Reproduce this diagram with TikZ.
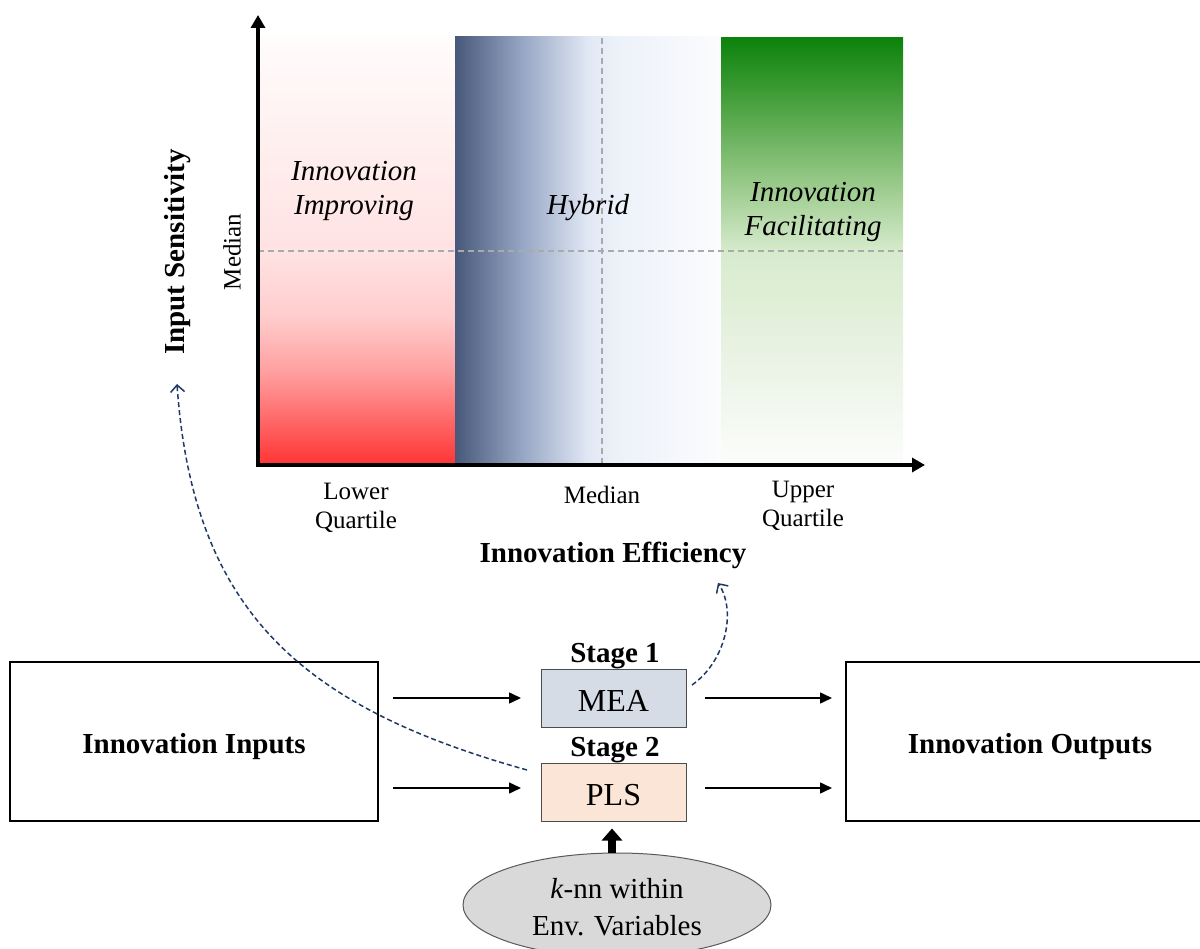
\documentclass[tikz,border=0pt]{standalone}
\usepackage{fontspec}
\setmainfont{Liberation Serif}
\usetikzlibrary{arrows.meta,shapes.geometric}

\definecolor{r0}{RGB}{255,52,52}
\definecolor{r1}{RGB}{255,160,160}
\definecolor{r2}{RGB}{255,205,205}
\definecolor{r3}{RGB}{255,226,226}
\definecolor{r4}{RGB}{255,252,252}
\definecolor{b0}{RGB}{72,88,122}
\definecolor{b1}{RGB}{150,165,195}
\definecolor{b2}{RGB}{225,232,245}
\definecolor{b3}{RGB}{236,241,249}
\definecolor{b4}{RGB}{252,252,254}
\definecolor{g0}{RGB}{252,253,252}
\definecolor{g1}{RGB}{232,242,226}
\definecolor{g2}{RGB}{215,235,205}
\definecolor{g3}{RGB}{150,200,135}
\definecolor{g4}{RGB}{70,160,60}
\definecolor{g5}{RGB}{12,130,12}
\definecolor{navy}{RGB}{31,56,100}
\definecolor{meafill}{RGB}{214,220,229}
\definecolor{plsfill}{RGB}{251,229,214}
\definecolor{envfill}{RGB}{217,217,217}
\definecolor{gridgray}{RGB}{170,170,170}

\pgfdeclareverticalshading{redshade}{100bp}{color(0bp)=(r0); color(25bp)=(r0); color(36bp)=(r1); color(42.5bp)=(r2); color(50bp)=(r3); color(75bp)=(r4); color(100bp)=(r4)}
\pgfdeclarehorizontalshading{blueshade}{100bp}{color(0bp)=(b0); color(25bp)=(b0); color(37.5bp)=(b1); color(50bp)=(b2); color(55bp)=(b3); color(75bp)=(b4); color(100bp)=(b4)}
\pgfdeclareverticalshading{greenshade}{100bp}{color(0bp)=(g0); color(25bp)=(g0); color(38.5bp)=(g1); color(50bp)=(g2); color(58.3bp)=(g3); color(67.75bp)=(g4); color(75bp)=(g5); color(100bp)=(g5)}

\newcommand\szA{\fontsize{29}{34}\selectfont}
\newcommand\szB{\fontsize{25}{29.5}\selectfont}
\newcommand\szC{\fontsize{32}{38}\selectfont}
\newcommand\szE{\fontsize{29}{37}\selectfont}

\tikzset{
  bigbox/.style={draw=black, line width=1.3pt, minimum width=368pt, minimum height=159pt},
  bigtext/.style={font=\szA\bfseries},
  stagebox/.style={draw=black!70, line width=1pt, minimum width=145pt, minimum height=58pt},
  stagetext/.style={font=\szC},
  stagelabel/.style={font=\szA\bfseries},
  regiontext/.style={font=\szA\itshape, align=center},
  ticktext/.style={font=\szB, align=center},
  flowarrow/.style={line width=1.5pt, -{Triangle[length=12pt,width=11pt]}},
  axisline/.style={line width=4pt, {Triangle[length=13pt,width=14pt]}-{Triangle[length=13pt,width=14pt]}},
  gridline/.style={gridgray, line width=1.5pt, dash pattern=on 6pt off 4pt},
  feedback/.style={navy, line width=1.5pt, dash pattern=on 5pt off 3pt, -{Straight Barb[length=7pt,width=14pt,line width=1.5pt]}},
  bigarrow/.style={line width=8pt, -{Triangle[length=12pt,width=20pt]}}
}

\begin{document}
\begin{tikzpicture}[x=1pt,y=-1pt]
\useasboundingbox (0,0) rectangle (1200,949);

% quadrant regions
\path[shading=redshade] (258,38) rectangle (455,465);
\path[shading=blueshade] (455,37) rectangle (721,465);
\path[shading=greenshade] (721,38) rectangle (903,465);

% median grid lines
\coordinate (hl) at (258,251);
\coordinate (hr) at (903,251);
\coordinate (vt) at (602,38);
\coordinate (vb) at (602,465);
\draw[gridline] (hl) -- (hr);
\draw[gridline] (vt) -- (vb);

% axes
\coordinate (O) at (258,465);
\coordinate (ytip) at (258,15);
\coordinate (xtip) at (925,465);
\draw[axisline] (ytip) -- (O) -- (xtip);

% region labels
\node[regiontext] (improv) at (354,191) {Innovation\\Improving};
\node[regiontext] (hybrid) at (588,208) {Hybrid};
\node[regiontext] (facil) at (813,212) {Innovation\\Facilitating};

% axis labels
\node[font=\szA\bfseries, rotate=90] (ylab) at (178,252) {Input Sensitivity};
\node[font=\szB, rotate=90] (ymed) at (232,252) {Median};
\node[ticktext] (lq) at (356,508) {Lower\\Quartile};
\node[ticktext] (xmed) at (602,495) {Median};
\node[ticktext] (uq) at (803,506) {Upper\\Quartile};
\node[font=\szA\bfseries] (xlab) at (613,555) {Innovation Efficiency};

% flow boxes
\node[bigbox] (inputs) at (194,741.5) {};
\node[bigtext] (inputsT) at ([yshift=-5pt]inputs.center) {Innovation Inputs};
\node[bigbox] (outputs) at (1030,741.5) {};
\node[bigtext] (outputsT) at ([yshift=-5pt]outputs.center) {Innovation Outputs};
\node[stagebox, fill=meafill] (mea) at (613.5,698) {};
\node[stagetext] (meaT) at ([yshift=-3pt]mea.center) {MEA};
\node[stagebox, fill=plsfill] (pls) at (613.5,792) {};
\node[stagetext] (plsT) at ([yshift=-3pt]pls.center) {PLS};
\node[stagelabel] (s1) at (615,656) {Stage 1};
\node[stagelabel] (s2) at (615,750) {Stage 2};
\node[ellipse, draw=black!65, line width=1pt, fill=envfill, minimum width=308pt, minimum height=104pt] (env) at (617,905) {};
\node[font=\szE, align=center] (envT) at ([yshift=-2pt]env.center) {\textit{k}-nn within\\Env. Variables};

% flow arrows
\coordinate (a1s) at (393,698); \coordinate (a1e) at (521,698);
\coordinate (a2s) at (393,788); \coordinate (a2e) at (521,788);
\coordinate (a3s) at (705,698); \coordinate (a3e) at (832,698);
\coordinate (a4s) at (705,788); \coordinate (a4e) at (832,788);
\draw[flowarrow] (a1s) -- (a1e);
\draw[flowarrow] (a2s) -- (a2e);
\draw[flowarrow] (a3s) -- (a3e);
\draw[flowarrow] (a4s) -- (a4e);

\draw[bigarrow] ([xshift=-5pt]env.north) -- ([xshift=-1.5pt,yshift=-7pt]pls.south);

% feedback curves
\coordinate (f1s) at (527,770);
\coordinate (f1e) at (177,384);
\draw[feedback] (f1s) .. controls (305,708) and (193,614) .. (f1e);
\coordinate (f2s) at (692,685);
\coordinate (f2e) at (718,583);
\draw[feedback] (f2s) .. controls (725,662) and (737,612) .. (f2e);
\end{tikzpicture}
\end{document}
